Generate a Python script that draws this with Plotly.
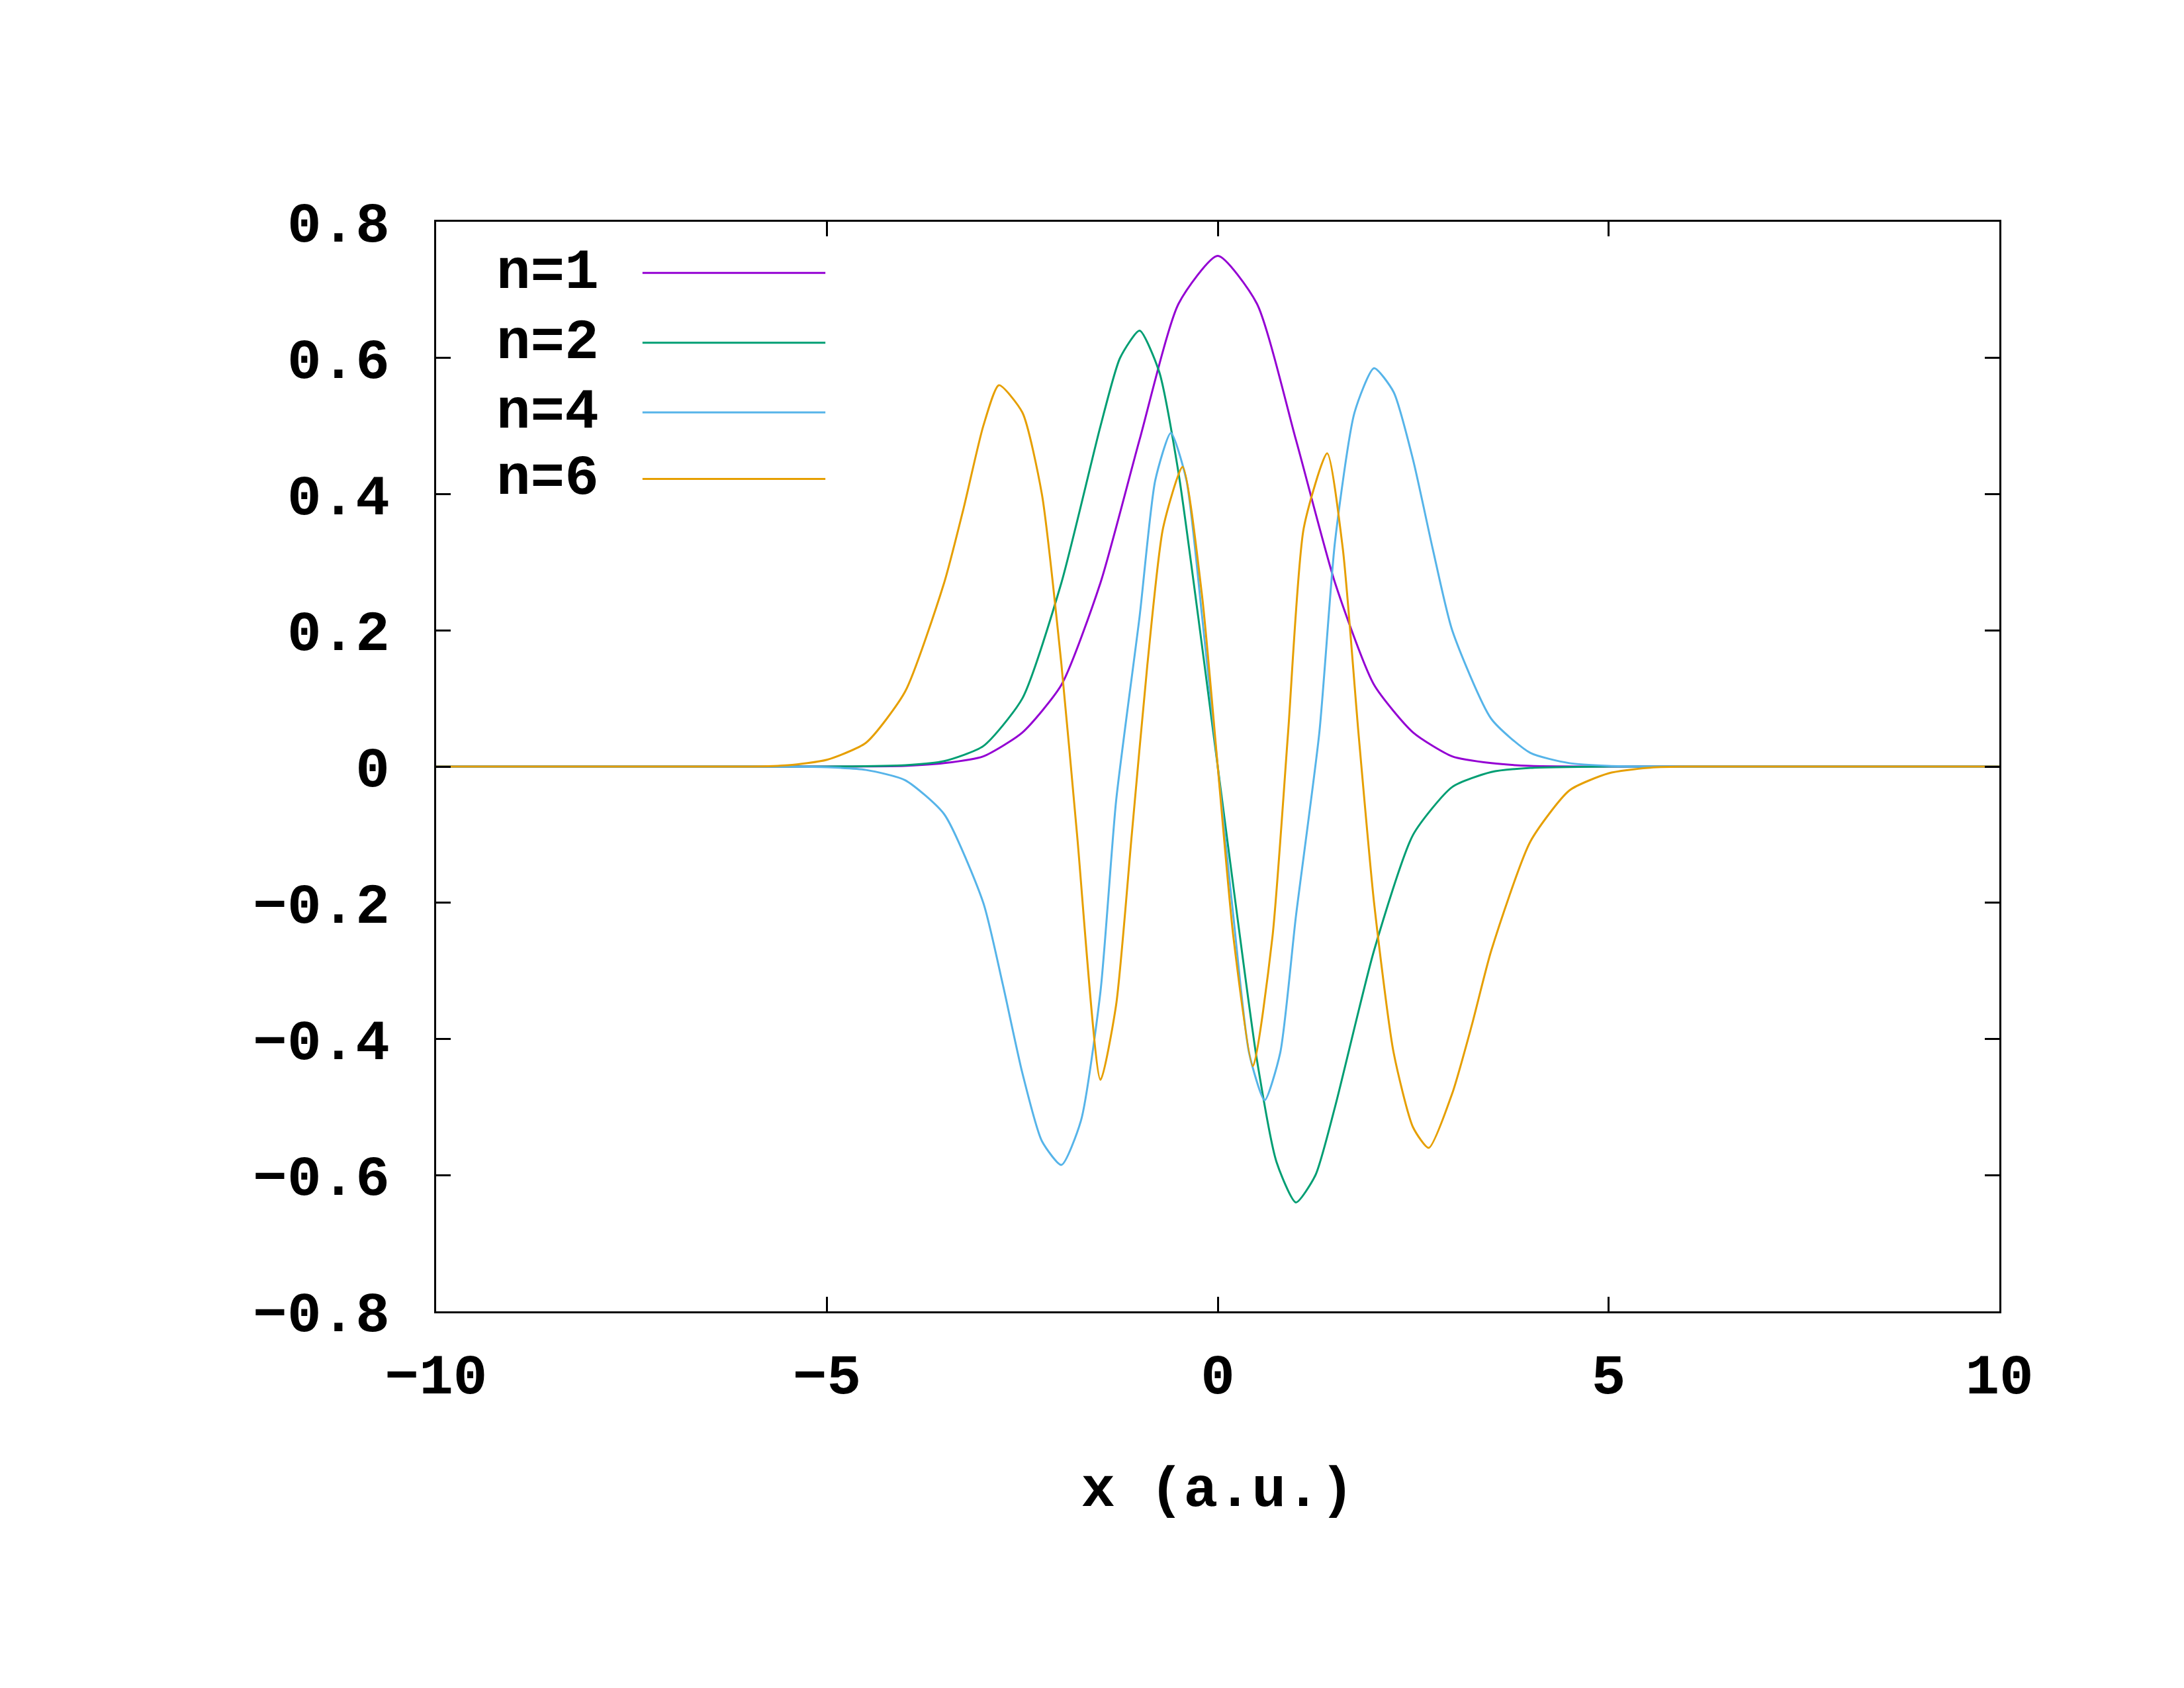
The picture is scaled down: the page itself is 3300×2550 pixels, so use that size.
import plotly.graph_objects as go

# values
x1 = [-10, -5, -4, -3.5, -3, -2.5, -2, -1.5, -1, -0.5, 0, 0.5, 1, 1.5, 2, 2.5, 3, 3.5, 4, 5, 10]
y1 = [0, 0, 0.001, 0.005, 0.015, 0.05, 0.12, 0.27, 0.48, 0.68, 0.75, 0.68, 0.48, 0.27, 0.12, 0.05, 0.015, 0.005, 0.001, 0, 0]

x2 = [-10, -5, -4, -3.5, -3, -2.5, -2, -1.5, -1.25, -1, -0.75, -0.5, -0.25, 0,
      0.25, 0.5, 0.75, 1, 1.25, 1.5, 2, 2.5, 3, 3.5, 4, 5, 10]
y2 = [0, 0, 0.002, 0.008, 0.03, 0.1, 0.27, 0.5, 0.6, 0.64, 0.58, 0.43, 0.22, 0,
      -0.22, -0.43, -0.58, -0.64, -0.6, -0.5, -0.27, -0.1, -0.03, -0.008, -0.002, 0, 0]

x4 = [-10, -5.5, -5, -4.5, -4, -3.5, -3, -2.75, -2.5, -2.25, -2, -1.75, -1.5, -1.3, -1, -0.8, -0.6, -0.4, -0.2, 0,
      0.2, 0.4, 0.6, 0.8, 1, 1.3, 1.5, 1.75, 2, 2.25, 2.5, 2.75, 3, 3.5, 4, 4.5, 5, 5.5, 10]
y4 = [0, 0, -0.001, -0.005, -0.02, -0.07, -0.2, -0.32, -0.45, -0.55, -0.585, -0.52, -0.33, -0.05, 0.22, 0.42, 0.49, 0.42, 0.22, 0,
      -0.22, -0.42, -0.49, -0.42, -0.22, 0.05, 0.33, 0.52, 0.585, 0.55, 0.45, 0.32, 0.2, 0.07, 0.02, 0.005, 0.001, 0, 0]

x6 = [-10, -6, -5.5, -5, -4.5, -4, -3.5, -3.25, -3, -2.8, -2.5, -2.25, -2, -1.8, -1.5, -1.3, -1.1, -0.9, -0.7, -0.45, -0.2, 0,
      0.2, 0.45, 0.7, 0.9, 1.1, 1.4, 1.6, 1.8, 2, 2.25, 2.5, 2.7, 3, 3.25, 3.5, 4, 4.5, 5, 5.5, 6, 10]
y6 = [0, 0, 0.002, 0.01, 0.035, 0.11, 0.27, 0.38, 0.5, 0.56, 0.52, 0.4, 0.15, -0.1, -0.46, -0.35, -0.1, 0.15, 0.35, 0.44, 0.25, 0,
      -0.25, -0.44, -0.25, 0.05, 0.35, 0.46, 0.32, 0.05, -0.2, -0.42, -0.53, -0.56, -0.48, -0.38, -0.27, -0.11, -0.035, -0.01, -0.002, 0, 0]

series = [("n=1", x1, y1, "#9400d3"), ("n=2", x2, y2, "#009e73"),
          ("n=4", x4, y4, "#56b4e9"), ("n=6", x6, y6, "#e69f00")]

FONT = "Liberation Mono"
fig = go.Figure()
for name, xs, ys, c in series:
    fig.add_trace(go.Scatter(x=xs, y=ys, mode="lines", name=name,
                             line=dict(color=c, width=3, shape="spline", smoothing=0.6)))

legend_y = [0.953, 0.889, 0.825, 0.764]
for (name, _, _, c), ly in zip(series, legend_y):
    fig.add_annotation(xref="paper", yref="paper", x=0.105, y=ly, text="<b>%s</b>" % name,
                       showarrow=False, xanchor="right", yanchor="middle",
                       font=dict(family=FONT, size=86, color="black"))
    fig.add_shape(type="line", xref="paper", yref="paper", x0=0.132, x1=0.249, y0=ly, y1=ly,
                  line=dict(color=c, width=3))

axis = dict(showgrid=False, zeroline=False, showline=True, linecolor="black", linewidth=3,
            mirror="ticks", ticks="inside", ticklen=22, tickwidth=3, tickcolor="black",
            tickfont=dict(family=FONT, size=86, color="black"))
fig.update_xaxes(range=[-10, 10], tickvals=[-10, -5, 0, 5, 10],
                 ticktext=["<b>−10</b>", "<b>−5</b>", "<b>0</b>", "<b>5</b>", "<b>10</b>"],
                 ticklabelstandoff=18,
                 title=dict(text="<b>x (a.u.)</b>", font=dict(family=FONT, size=86, color="black"), standoff=85),
                 **axis)
yv = [-0.8, -0.6, -0.4, -0.2, 0, 0.2, 0.4, 0.6, 0.8]
fig.update_yaxes(range=[-0.8, 0.8], tickvals=yv, ticklabelstandoff=50,
                 ticktext=["<b>%s</b>" % (("%.1f" % v).replace("-", "−") if v != 0 else "0") for v in yv],
                 **axis)
fig.update_layout(width=3300, height=2550, showlegend=False,
                  paper_bgcolor="white", plot_bgcolor="white",
                  margin=dict(l=651, r=287, t=327, b=577))
fig.write_html("out.html")
